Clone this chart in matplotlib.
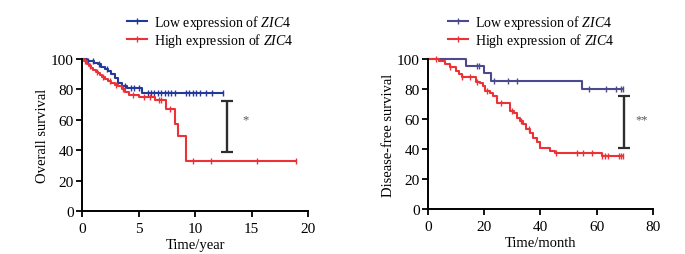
import numpy as np
import matplotlib
matplotlib.use("Agg")
import matplotlib.pyplot as plt
from matplotlib.lines import Line2D

plt.rcParams['font.family'] = ['Liberation Serif', 'DejaVu Serif']
plt.rcParams['mathtext.fontset'] = 'custom'
plt.rcParams['mathtext.it'] = 'Liberation Serif:italic'
plt.rcParams['mathtext.rm'] = 'Liberation Serif'

# Overall survival (years)
os_low_t = [0, 0.4, 0.8, 1.1, 1.4, 1.7, 2.0, 2.3, 2.6, 2.9, 3.2, 3.5, 4.0, 5.3, 12.5]
os_low_s = [100, 99, 98.5, 97.5, 96.5, 95, 93.5, 92, 90, 87.5, 84.5, 82, 81, 77.5, 77.5]
os_low_cens = [0.5, 1.0, 1.5, 2.2, 3.8, 4.3, 4.6, 5.0, 5.8, 6.1, 6.4, 6.7, 7.0, 7.3, 7.6, 7.9,
               8.2, 9.2, 9.5, 9.8, 10.1, 10.4, 11.0, 11.5, 12.5]
os_high_t = [0, 0.2, 0.4, 0.6, 0.8, 1.0, 1.2, 1.4, 1.6, 1.8, 2.0, 2.3, 2.6, 2.9, 3.2, 3.5,
             3.8, 4.2, 5.0, 6.5, 7.4, 8.2, 8.5, 9.2, 18.9]
os_high_s = [100, 98.5, 97, 95.5, 94, 93, 91.5, 90.5, 89.5, 88.5, 87, 85.5, 84, 83, 82, 80,
             78, 76.5, 75, 73, 67, 57, 49.5, 33, 33]
os_high_cens = [0.3, 0.7, 1.3, 1.9, 2.5, 3.0, 3.6, 4.5, 5.5, 6.0, 6.8, 7.0, 7.8, 9.8, 11.4, 15.5, 18.9]

# Disease-free survival (months)
dfs_low_t = [0, 13.5, 20, 22.3, 54.7, 69.3]
dfs_low_s = [100, 95.5, 90.5, 85.5, 80, 80]
dfs_low_cens = [17.4, 18.0, 23.3, 28.6, 31.6, 57.4, 63.2, 66.7, 68.6, 69.3]
dfs_high_t = [0, 4, 6, 8, 10, 11, 12, 17, 18.5, 19.5, 20.3, 22, 23.2, 24.4, 28, 29.2, 30.5,
              31.6, 32.7, 33.9, 35, 36.3, 37.5, 38.7, 39.9, 43.4, 45.2, 61.8, 69.4]
dfs_high_s = [100, 98.5, 96.5, 94.5, 92, 90, 88, 85, 84, 82, 79, 77.5, 75.5, 71, 71, 65.5, 64,
              61, 59, 56.7, 53.5, 51, 47.5, 44.4, 40.4, 38.9, 37.3, 35.5, 35.5]
dfs_high_cens = [3, 8, 12, 15, 17.5, 21, 26, 30, 33, 36, 45.5, 53, 55, 58.3, 62, 63, 64, 68, 68.6, 69.4]

legend_labels = ['Low expression of $\\mathit{ZIC4}$', 'High expression of $\\mathit{ZIC4}$']

blue_os = '#23399b'
blue_dfs = '#4b4a8f'
red = '#ec3237'
bar_col = '#2e2e2e'


def km(ax, t, s, cens, color):
    t = np.asarray(t)
    s = np.asarray(s)
    ax.step(t, s, where='post', color=color, lw=1.5, clip_on=False)
    c = np.asarray(cens)
    idx = np.searchsorted(t, c, side='right') - 1
    ax.plot(c, s[idx], ls='none', marker='|', ms=4, mew=1.0, color=color, clip_on=False)


def style(ax, xmax, xstep):
    for sp in ['top', 'right']:
        ax.spines[sp].set_visible(False)
    for sp in ['left', 'bottom']:
        ax.spines[sp].set_linewidth(1.4)
    ax.set_ylim(0, 100)
    ax.set_xlim(0, xmax)
    ax.set_yticks(range(0, 101, 20))
    ax.set_xticks(np.arange(0, xmax + 1, xstep))
    ax.tick_params(direction='out', length=4, width=1.3, labelsize=11, pad=2)
    ax.tick_params(axis='x', pad=4)


def add_legend(ax, colors, x0):
    h = [Line2D([], [], color=c, lw=1.5, marker='|', ms=4) for c in colors]
    ax.legend(h, legend_labels, loc='lower left', bbox_to_anchor=(x0, 1.02), frameon=False,
              fontsize=10, handlelength=1.4, handletextpad=0.5, labelspacing=0.0,
              borderpad=0, numpoints=1)


fig = plt.figure(figsize=(6.85, 2.55), dpi=100)

ax1 = fig.add_axes([0.1197, 0.1686, 0.33, 0.596])
km(ax1, os_low_t, os_low_s, os_low_cens, blue_os)
km(ax1, os_high_t, os_high_s, os_high_cens, red)
style(ax1, 20, 5)
ax1.errorbar([12.8], [55.6], yerr=[16.6], color=bar_col, lw=1.7, capsize=4, capthick=1.6)
ax1.text(14.5, 60, '*', fontsize=9, ha='center', va='center', color='#555555')
ax1.set_xlabel('Time/year', fontsize=10.5, labelpad=2)
ax1.set_ylabel('Overall survival', fontsize=10.5, labelpad=1)
add_legend(ax1, [blue_os, red], 0.17)

ax2 = fig.add_axes([0.6248, 0.1765, 0.3285, 0.588])
km(ax2, dfs_low_t, dfs_low_s, dfs_low_cens, blue_dfs)
km(ax2, dfs_high_t, dfs_high_s, dfs_high_cens, red)
style(ax2, 80, 20)
ax2.errorbar([69.8], [58], yerr=[17.5], color=bar_col, lw=1.7, capsize=4, capthick=1.6)
ax2.text(76, 60, '**', fontsize=9, ha='center', va='center', color='#555555')
ax2.set_xlabel('Time/month', fontsize=10.5, labelpad=2)
ax2.set_ylabel('Disease-free survival', fontsize=10.5, labelpad=1)
add_legend(ax2, [blue_dfs, red], 0.06)

fig.savefig('out.png', dpi=100)
